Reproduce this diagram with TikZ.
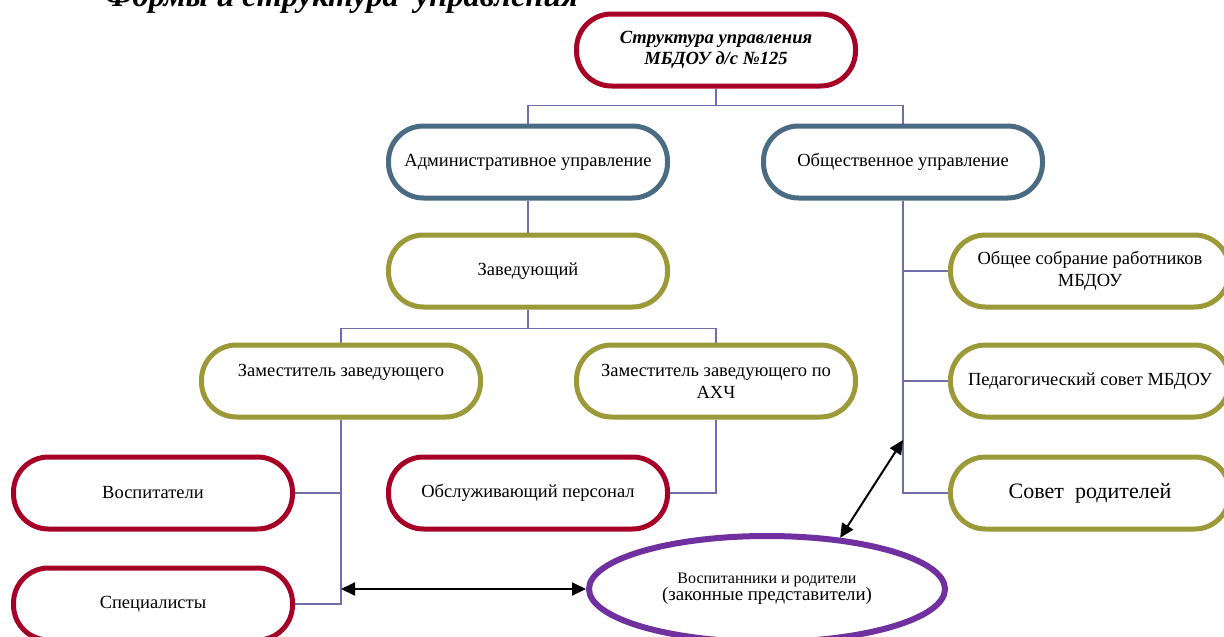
\documentclass[tikz,border=0pt]{standalone}
\usepackage{fontspec}
\setmainfont{Liberation Serif}
\usetikzlibrary{arrows.meta,shapes.geometric,backgrounds}
\definecolor{cred}{RGB}{166,0,38}
\definecolor{cblue}{RGB}{74,107,130}
\definecolor{colive}{RGB}{155,153,56}
\definecolor{cpurple}{RGB}{112,48,160}
\definecolor{connc}{RGB}{110,110,175}
\begin{document}
\begin{tikzpicture}[x=1pt,y=-1pt,
  pill/.style={draw, line width=5pt, rounded corners=35pt, minimum width=279pt,
    minimum height=72pt, inner sep=0pt, fill=white, align=center,
    font=\fontsize{18.5}{22}\selectfont},
  redpill/.style={pill, draw=cred},
  bluepill/.style={pill, draw=cblue},
  olivepill/.style={pill, draw=colive},
  conn/.style={draw=connc, line width=1.5pt},
  biarrow/.style={{Triangle[length=14pt,width=13pt]}-{Triangle[length=14pt,width=13pt]}, line width=2pt, draw=black}]
\useasboundingbox (0,0) rectangle (1224,637);
\clip (0,0) rectangle (1224,637);
\node[anchor=base west, inner sep=0pt, font=\bfseries\itshape\fontsize{32.4}{38}\selectfont] (title) at (105,6) {Формы и структура\ \ управления};
\node[redpill, font=\bfseries\itshape\fontsize{18.6}{21}\selectfont] (top) at (716,50) {Структура управления\\МБДОУ д/с №125};
\node[bluepill] (adm) at (528,162) {Административное управление};
\node[bluepill] (obs) at (903,162) {Общественное управление};
\node[olivepill] (zav) at (528,271) {Заведующий};
\node[olivepill] (zam) at (341,381) {Заместитель заведующего\\\mbox{}};
\node[olivepill] (zamahch) at (716,381) {Заместитель заведующего по\\АХЧ};
\node[redpill] (vosp) at (153,493) {Воспитатели};
\node[redpill] (spec) at (153,604) {Специалисты};
\node[redpill] (obsl) at (528,493) {Обслуживающий персонал};
\node[olivepill] (sobr) at (1090,271) {Общее собрание работников\\МБДОУ};
\node[olivepill] (ped) at (1090,381) {Педагогический совет МБДОУ};
\node[olivepill, font=\fontsize{22}{26}\selectfont] (sov) at (1090,493) {Совет\ \ родителей};
\node[ellipse, draw=cpurple, line width=6pt, minimum width=356pt, minimum height=106pt,
  fill=white, inner sep=0pt, align=center] (ell) at (767,589)
  {{\fontsize{16}{19}\selectfont Воспитанники и родители}\\{\fontsize{18.9}{22}\selectfont (законные представители)}};
\coordinate (q) at (903,440);
\begin{scope}[on background layer]
\draw[conn] (top.south) -- ++(0,17) -| (adm.north);
\draw[conn] (top.south) -- ++(0,17) -| (obs.north);
\draw[conn] (adm.south) -- (zav.north);
\draw[conn] (zav.south) -- ++(0,19) -| (zam.north);
\draw[conn] (zav.south) -- ++(0,19) -| (zamahch.north);
\draw[conn] (zam.south) |- (spec.east);
\draw[conn] (zam.south |- vosp.east) -- (vosp.east);
\draw[conn] (zamahch.south) |- (obsl.east);
\draw[conn] (obs.south) |- (sov.west);
\draw[conn] (obs.south |- sobr.west) -- (sobr.west);
\draw[conn] (obs.south |- ped.west) -- (ped.west);
\end{scope}
\draw[biarrow] (zam.south |- ell.west) -- (ell.west);
\draw[biarrow] (q) -- (ell.35);
\end{tikzpicture}
\end{document}
